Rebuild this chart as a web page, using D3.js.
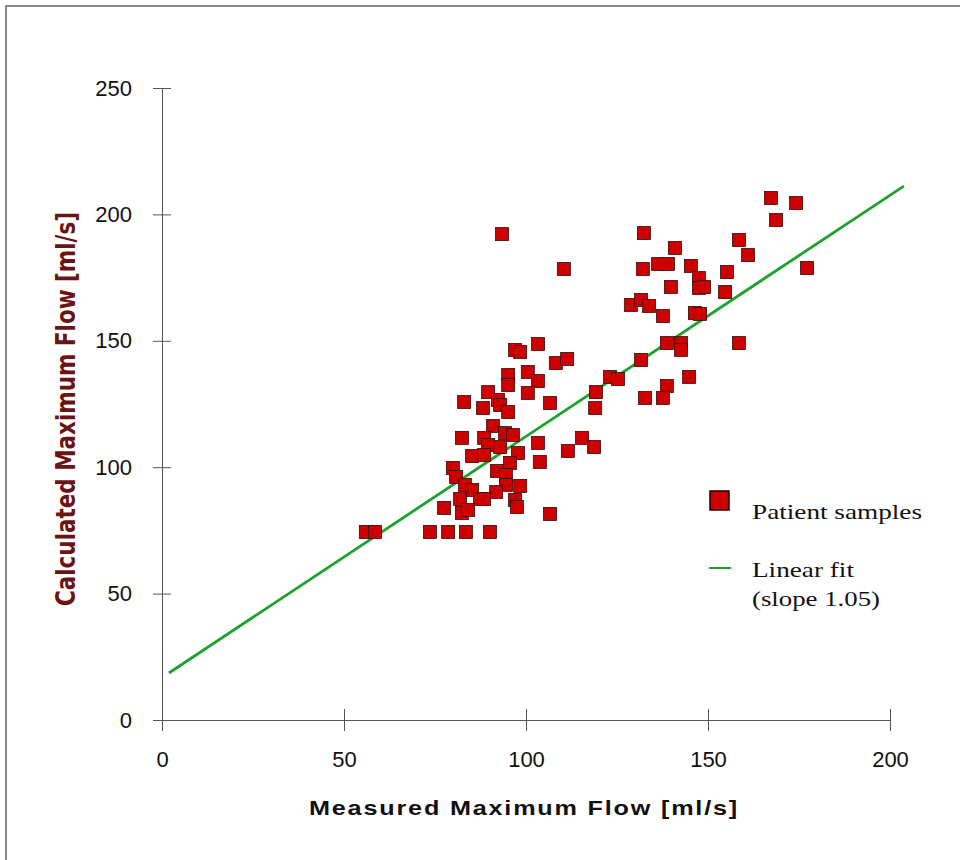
<!DOCTYPE html>
<html>
<head>
<meta charset="utf-8">
<script src="https://cdn.jsdelivr.net/npm/d3@7"></script>
<style>
  body { margin: 0; background: #fff; }
  svg { display: block; }
</style>
</head>
<body>
<svg id="chart" width="960" height="860"></svg>
<script>
// measured flow (x) and calculated flow (y), ml/s
const measured = [
  56.0, 58.5, 73.6, 78.6, 83.5, 90.1, 103.3, 97.0, 98.4, 108.2,
  111.3, 95.1, 95.1, 100.5, 103.3, 123.1, 125.3, 89.6, 100.5, 83.0,
  106.6, 119.2, 88.2, 92.3, 92.9, 95.1, 119.0, 90.9, 94.2, 96.4,
  82.4, 88.5, 89.6, 92.9, 103.3, 115.4, 118.7, 111.5, 85.2, 88.5,
  97.8, 95.6, 103.8, 79.9, 80.8, 92.0, 94.5, 83.2, 85.2, 94.5,
  98.4, 91.8, 81.9, 87.4, 88.5, 97.0, 97.5, 77.5, 82.4, 84.1,
  106.6, 93.4, 110.4, 167.3, 174.2, 168.7, 132.4, 158.5, 140.9, 161.0,
  136.3, 139.0, 132.1, 145.3, 155.2, 177.2, 147.5, 147.5, 148.9, 139.8,
  154.7, 128.8, 131.6, 133.8, 137.6, 146.4, 147.8, 138.7, 142.6, 142.6,
  158.5, 131.6, 144.8, 138.7, 132.7, 137.6
];
const calculated = [
  74.4, 74.4, 74.4, 74.4, 74.4, 74.4, 148.7, 146.4, 145.6, 141.2,
  142.8, 136.5, 132.5, 137.7, 134.1, 135.7, 134.9, 129.7, 129.4, 125.8,
  125.4, 129.7, 123.4, 126.6, 124.6, 121.8, 123.4, 116.3, 113.5, 112.7,
  111.6, 111.6, 108.8, 108.0, 109.6, 111.6, 108.0, 106.4, 104.4, 104.8,
  105.6, 101.7, 102.1, 99.7, 96.1, 98.5, 96.9, 93.0, 91.0, 93.0,
  92.6, 90.2, 87.4, 87.4, 87.4, 87.0, 84.3, 83.9, 81.9, 83.1,
  81.5, 192.2, 178.4, 206.5, 204.5, 197.8, 192.6, 189.9, 186.7, 183.9,
  180.4, 180.4, 178.4, 179.6, 177.2, 178.8, 174.8, 170.9, 171.3, 171.3,
  169.3, 164.2, 166.1, 163.8, 159.8, 161.0, 160.6, 149.1, 149.1, 146.4,
  149.1, 142.4, 135.7, 132.1, 127.4, 127.4
];

// linear fit line end points (measured, calculated)
const fitX = [1.9, 203.8];
const fitY = [18.6, 211.2];

const xTicks = [0, 50, 100, 150, 200];
const yTicks = [0, 50, 100, 150, 200, 250];

const svg = d3.select("#chart");

const x = d3.scaleLinear().domain([0, 200]).range([162, 890]);
const y = d3.scaleLinear().domain([0, 250]).range([720, 88]);

// outer frame (only top and left edge show in the scan)
svg.append("path")
  .attr("d", "M6,860 L6,6 L960,6")
  .attr("fill", "none")
  .attr("stroke", "#666")
  .attr("stroke-width", 1.5);

// axes
const xAxis = svg.append("g")
  .attr("transform", `translate(0,${y(0)})`)
  .call(d3.axisBottom(x).tickValues(xTicks).tickSizeInner(11).tickSizeOuter(0).tickPadding(20));
xAxis.selectAll(".tick line").attr("y1", -11);

const yAxis = svg.append("g")
  .attr("transform", `translate(${x(0)},0)`)
  .call(d3.axisLeft(y).tickValues(yTicks).tickSizeInner(9).tickSizeOuter(0).tickPadding(21));
yAxis.selectAll(".tick line").attr("x1", 9);

[xAxis, yAxis].forEach(g => {
  g.select(".domain").attr("stroke", "#555");
  g.selectAll(".tick line").attr("stroke", "#555");
  g.selectAll(".tick text")
    .attr("fill", "#111")
    .style("font-family", "'Liberation Sans', Arial, sans-serif")
    .style("font-size", "22px");
});
xAxis.selectAll(".tick text").attr("dy", "0.71em");

// axis titles
svg.append("text")
  .attr("x", 524)
  .attr("y", 815)
  .attr("text-anchor", "middle")
  .attr("textLength", 430)
  .attr("lengthAdjust", "spacingAndGlyphs")
  .style("font-family", "'Liberation Sans', Arial, sans-serif")
  .style("font-weight", "bold")
  .style("font-size", "21px")
  .style("letter-spacing", "1.5px")
  .attr("fill", "#111")
  .text("Measured Maximum Flow [ml/s]");

svg.append("text")
  .attr("transform", "translate(75,409) rotate(-90)")
  .attr("text-anchor", "middle")
  .attr("textLength", 394)
  .attr("lengthAdjust", "spacingAndGlyphs")
  .style("font-family", "'Liberation Sans Narrow', 'DejaVu Sans Condensed', Arial, sans-serif")
  .style("font-weight", "bold")
  .style("font-size", "26px")
  .attr("fill", "#6b1414")
  .text("Calculated Maximum Flow [ml/s]");

// fit line
const fitData = fitX.map((v, i) => [v, fitY[i]]);
svg.append("path")
  .datum(fitData)
  .attr("d", d3.line().x(d => x(d[0])).y(d => y(d[1])))
  .attr("fill", "none")
  .attr("stroke", "#1fa12f")
  .attr("stroke-width", 2.8);

// patient samples
const pts = measured.map((m, i) => ({ m: m, c: calculated[i] }));
const size = 13;
svg.append("g")
  .selectAll("rect")
  .data(pts)
  .join("rect")
  .attr("x", d => x(d.m) - size / 2)
  .attr("y", d => y(d.c) - size / 2)
  .attr("width", size)
  .attr("height", size)
  .attr("fill", "#cc0000")
  .attr("stroke", "#3a0a0a")
  .attr("stroke-width", 0.8);

// legend
const legend = svg.append("g").attr("class", "legend");
legend.append("rect")
  .attr("x", 710).attr("y", 491)
  .attr("width", 19).attr("height", 19)
  .attr("fill", "#cc0000")
  .attr("stroke", "#200")
  .attr("stroke-width", 1.5);
legend.append("line")
  .attr("x1", 709).attr("x2", 731)
  .attr("y1", 568).attr("y2", 568)
  .attr("stroke", "#1fa12f")
  .attr("stroke-width", 2);

const legendFont = "'Liberation Serif', 'Times New Roman', serif";
[["Patient samples", 519, 170], ["Linear fit", 577, 102], ["(slope 1.05)", 606, 128]].forEach(t => {
  legend.append("text")
    .attr("x", 752)
    .attr("y", t[1])
    .attr("textLength", t[2])
    .attr("lengthAdjust", "spacingAndGlyphs")
    .style("font-family", legendFont)
    .style("font-size", "22px")
    .attr("fill", "#111")
    .text(t[0]);
});
</script>
</body>
</html>
